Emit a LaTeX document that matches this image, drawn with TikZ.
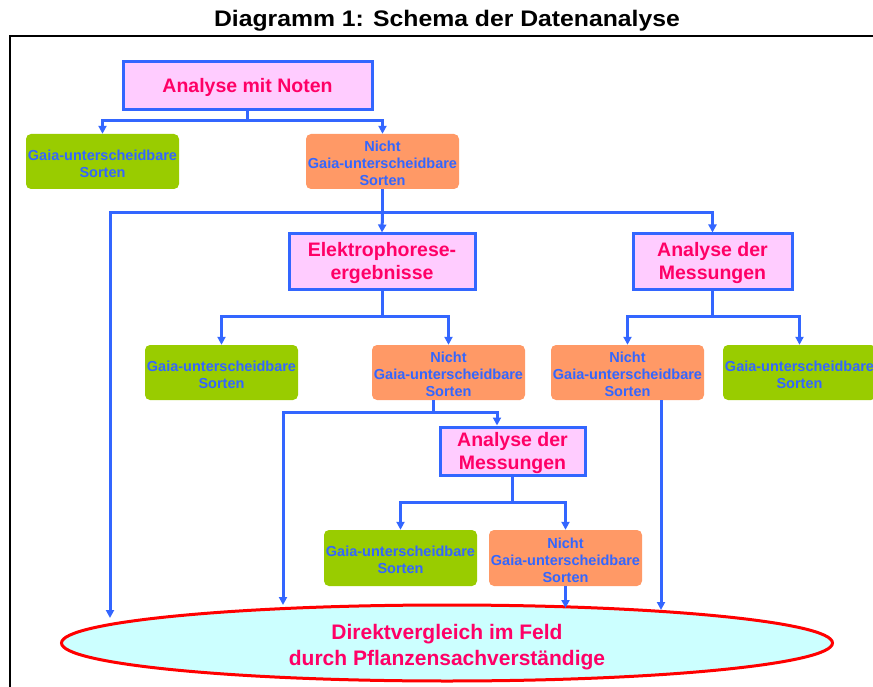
\documentclass[tikz,border=0pt]{standalone}
\usepackage{fontspec}
\setmainfont{Liberation Sans}
\usetikzlibrary{arrows.meta,shapes.geometric}
\definecolor{cblue}{HTML}{3366FF}
\definecolor{cpink}{HTML}{FFCCFF}
\definecolor{cmag}{HTML}{FF0066}
\definecolor{cgreen}{HTML}{99CC00}
\definecolor{corange}{HTML}{FF9966}
\definecolor{ccyan}{HTML}{CCFFFF}
\definecolor{cred}{HTML}{FF0000}
\newcommand\sst{\rule{0pt}{14.5pt}}
\newcommand\pst{\rule{0pt}{18pt}}
\newcommand\est{\rule{0pt}{23pt}}
\begin{document}
\begin{tikzpicture}[x=1pt,y=-1pt,
  pinkbox/.style={draw=cblue, line width=3pt, fill=cpink, text=cmag,
    font=\bfseries\fontsize{19.5}{23}\selectfont, align=center, inner sep=0pt},
  sortbox/.style={rounded corners=5pt, text=cblue,
    font=\bfseries\fontsize{14.5}{17}\selectfont, align=center, inner sep=0pt,
    minimum width=153pt, minimum height=55pt},
  greenbox/.style={sortbox, fill=cgreen},
  orangebox/.style={sortbox, fill=corange},
  conn/.style={draw=cblue, line width=3pt},
  arr/.style={conn, -{Triangle[length=8pt,width=8pt]}}
]
\useasboundingbox (0,0) rectangle (873,687);

% title and frame
\node[font=\bfseries\fontsize{22.5}{26}\selectfont] (title) at (447,21) {\scalebox{1.1}[1]{Diagramm 1: Schema der Datenanalyse}};
\coordinate (fbl) at (10,690);
\coordinate (ftl) at (10,36);
\coordinate (ftr) at (876,36);
\draw[line width=2pt] (fbl) -- (ftl) -- (ftr);

% nodes
\node[pinkbox, minimum width=249pt, minimum height=48pt] (A) at (247.5,86) {\pst Analyse mit Noten};
\node[greenbox] (G1) at (102.5,161.5) {\sst Gaia-unterscheidbare\\Sorten};
\node[orangebox] (N1) at (382.5,161.5) {\sst Nicht\\Gaia-unterscheidbare\\Sorten};
\node[pinkbox, minimum width=186pt, minimum height=55pt] (E) at (382,261.5) {\pst Elektrophorese-\\ergebnisse};
\node[pinkbox, minimum width=159pt, minimum height=55pt] (M1) at (712.5,261.5) {\pst Analyse der\\Messungen};
\node[greenbox] (G2) at (221.5,372.5) {\sst Gaia-unterscheidbare\\Sorten};
\node[orangebox] (N2) at (448.5,372.5) {\sst Nicht\\Gaia-unterscheidbare\\Sorten};
\node[orangebox] (N3) at (627.5,372.5) {\sst Nicht\\Gaia-unterscheidbare\\Sorten};
\node[greenbox] (G3) at (799.5,372.5) {\sst Gaia-unterscheidbare\\Sorten};
\node[pinkbox, minimum width=145pt, minimum height=48pt] (M2) at (512.5,451) {\pst Analyse der\\Messungen};
\node[greenbox, minimum height=56pt] (G4) at (400.5,558) {\sst Gaia-unterscheidbare\\Sorten};
\node[orangebox, minimum height=56pt] (N4) at (565.5,558) {\sst Nicht\\Gaia-unterscheidbare\\Sorten};
\node[ellipse, draw=cred, line width=3pt, fill=ccyan, minimum width=771pt, minimum height=76pt,
  inner sep=0pt, text=cmag, align=center, font=\bfseries\fontsize{21}{26}\selectfont] (D) at (447,643)
  {\est Direktvergleich im Feld\\durch Pflanzensachverständige};

% connectors
\coordinate (b1) at (247.5,121);
\draw[conn] (A.south) -- (b1);
\draw[arr] (b1) -| (G1.north);
\draw[arr] (b1) -| (N1.north);

\coordinate (b2) at (382.5,213);
\coordinate (e1) at (110,618);
\draw[conn] (N1.south) -- (b2);
\draw[arr] (b2) -- (E.north);
\draw[arr] (b2) -| (M1.north);
\draw[arr] (b2) -| (e1);

\coordinate (b3) at (382,316);
\draw[conn] (E.south) -- (b3);
\draw[arr] (b3) -| (G2.north);
\draw[arr] (b3) -| (N2.north);

\coordinate (b4) at (712.5,316);
\draw[conn] (M1.south) -- (b4);
\draw[arr] (b4) -| (N3.north);
\draw[arr] (b4) -| (G3.north);

\coordinate (e3) at (661,610);
\draw[arr] (N3.south -| e3) -- (e3);

\coordinate (b5) at (433,412);
\coordinate (e2) at (283,605);
\coordinate (m2in) at (497,0);
\draw[conn] (N2.south -| b5) -- (b5);
\draw[arr] (b5) -| (M2.north -| m2in);
\draw[arr] (b5) -| (e2);

\coordinate (b6) at (512.5,502);
\draw[conn] (M2.south) -- (b6);
\draw[arr] (b6) -| (G4.north);
\draw[arr] (b6) -| (N4.north);

\coordinate (e4) at (565.5,608);
\draw[arr] (N4.south) -- (e4);
\end{tikzpicture}
\end{document}
